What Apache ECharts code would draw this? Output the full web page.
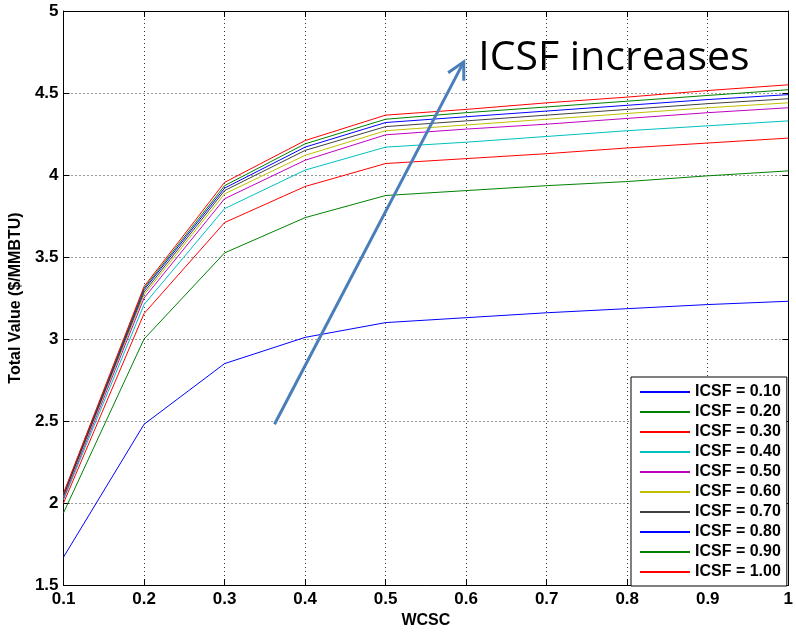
<!DOCTYPE html>
<html>
<head>
<meta charset="utf-8">
<script src="https://cdn.jsdelivr.net/npm/echarts@6/dist/echarts.min.js"></script>
<style>
html,body{margin:0;padding:0;background:#fff;}
#chart{width:796px;height:634px;}
</style>
</head>
<body>
<div id="chart"></div>
<script>
// ---- data ----
const wcsc = [0.1, 0.2, 0.3, 0.4, 0.5, 0.6, 0.7, 0.8, 0.9, 1.0];
const seriesNames = ['ICSF = 0.10','ICSF = 0.20','ICSF = 0.30','ICSF = 0.40','ICSF = 0.50','ICSF = 0.60','ICSF = 0.70','ICSF = 0.80','ICSF = 0.90','ICSF = 1.00'];
const icsf010 = [1.67, 2.48, 2.85, 3.01, 3.10, 3.13, 3.16, 3.185, 3.21, 3.23];
const icsf020 = [1.94, 3.00, 3.525, 3.74, 3.875, 3.905, 3.935, 3.96, 3.995, 4.025];
const icsf030 = [2.00, 3.155, 3.71, 3.93, 4.07, 4.10, 4.13, 4.165, 4.195, 4.225];
const icsf040 = [2.02, 3.21, 3.795, 4.03, 4.17, 4.20, 4.235, 4.27, 4.30, 4.33];
const icsf050 = [2.03, 3.25, 3.855, 4.09, 4.245, 4.28, 4.31, 4.345, 4.38, 4.41];
const icsf060 = [2.04, 3.27, 3.885, 4.12, 4.27, 4.305, 4.34, 4.375, 4.41, 4.44];
const icsf070 = [2.045, 3.285, 3.905, 4.15, 4.295, 4.33, 4.365, 4.40, 4.435, 4.465];
const icsf080 = [2.05, 3.30, 3.92, 4.17, 4.32, 4.355, 4.39, 4.425, 4.46, 4.49];
const icsf090 = [2.055, 3.31, 3.935, 4.19, 4.34, 4.38, 4.415, 4.45, 4.485, 4.52];
const icsf100 = [2.06, 3.32, 3.955, 4.21, 4.365, 4.40, 4.44, 4.475, 4.515, 4.55];
const allValues = [icsf010, icsf020, icsf030, icsf040, icsf050, icsf060, icsf070, icsf080, icsf090, icsf100];
// annotation (data coordinates)
const arrowStart = [0.362, 2.48];
const arrowEnd = [0.597, 4.69];
const annotationText = 'ICSF increases';
const annotationAnchor = [0.615, 4.71];

const colors = ['#0000ff','#008000','#ff0000','#00bfbf','#bf00bf','#bfbf00','#404040','#0000ff','#008000','#ff0000'];
const FONT = '"Liberation Sans", Arial, sans-serif';

const chart = echarts.init(document.getElementById('chart'), null, {renderer: 'canvas'});

const series = allValues.map((vals, i) => ({
  name: seriesNames[i],
  type: 'line',
  data: wcsc.map((x, j) => [x, vals[j]]),
  symbol: 'none',
  showSymbol: false,
  lineStyle: {color: colors[i], width: 1},
  itemStyle: {color: colors[i]},
  animation: false,
  z: 3
}));

const dotted = {show: true, lineStyle: {color: '#333', width: 1, type: [1, 3]}};
const labelStyle = {color: '#000', fontFamily: FONT, fontWeight: 'bold', fontSize: 17};

chart.setOption({
  backgroundColor: '#fff',
  animation: false,
  grid: {left: 61, top: 11, width: 736, height: 580, containLabel: false},
  legend: {
    orient: 'vertical',
    left: 631, top: 377,
    data: seriesNames,
    icon: 'rect',
    itemWidth: 50, itemHeight: 2, itemGap: 4,
    padding: [7, 6, 6, 9],
    borderColor: '#000', borderWidth: 1,
    backgroundColor: '#fff',
    selectedMode: false,
    textStyle: {color: '#000', fontFamily: FONT, fontWeight: 'bold', fontSize: 16, lineHeight: 16}
  },
  xAxis: [{
    type: 'value', min: 0.1, max: 1.0, interval: 0.1,
    name: 'WCSC', nameLocation: 'middle', nameGap: 28,
    nameTextStyle: {color: '#000', fontFamily: FONT, fontWeight: 'bold', fontSize: 16},
    axisLine: {show: true, onZero: false, lineStyle: {color: '#000', width: 1}},
    axisTick: {show: true, inside: true, length: 6, lineStyle: {color: '#000'}},
    axisLabel: Object.assign({margin: 6, formatter: v => (Math.round(v*10)/10).toString()}, labelStyle),
    splitLine: dotted
  }, {
    type: 'value', min: 0.1, max: 1.0, interval: 0.1, position: 'top',
    axisLine: {show: true, onZero: false, lineStyle: {color: '#000', width: 1}},
    axisTick: {show: true, inside: true, length: 6, lineStyle: {color: '#000'}},
    axisLabel: {show: false}, splitLine: {show: false}
  }],
  yAxis: [{
    type: 'value', min: 1.5, max: 5, interval: 0.5,
    name: 'Total Value ($/MMBTU)', nameLocation: 'middle', nameGap: 36,
    nameTextStyle: {color: '#000', fontFamily: FONT, fontWeight: 'bold', fontSize: 16},
    axisLine: {show: true, onZero: false, lineStyle: {color: '#000', width: 1}},
    axisTick: {show: true, inside: true, length: 6, lineStyle: {color: '#000'}},
    axisLabel: Object.assign({margin: 5}, labelStyle),
    splitLine: dotted
  }, {
    type: 'value', min: 1.5, max: 5, interval: 0.5, position: 'right',
    axisLine: {show: true, onZero: false, lineStyle: {color: '#000', width: 1}},
    axisTick: {show: true, inside: true, length: 6, lineStyle: {color: '#000'}},
    axisLabel: {show: false}, splitLine: {show: false}
  }],
  series: series
});

// annotation arrow and text, positioned via the chart's own coordinate system
const p0 = chart.convertToPixel({gridIndex: 0}, arrowStart);
const p1 = chart.convertToPixel({gridIndex: 0}, arrowEnd);
const ta = chart.convertToPixel({gridIndex: 0}, annotationAnchor);
const dx = p1[0] - p0[0], dy = p1[1] - p0[1];
const len = Math.sqrt(dx*dx + dy*dy);
const ux = dx/len, uy = dy/len;
const headLen = 19, ang = Math.PI/6.5;
function rot(x, y, a){ return [x*Math.cos(a) - y*Math.sin(a), x*Math.sin(a) + y*Math.cos(a)]; }
const a1 = rot(-ux, -uy, ang), a2 = rot(-ux, -uy, -ang);
const arrowColor = '#4a7ebb';
chart.setOption({
  graphic: [
    {type: 'polyline', z: 10, shape: {points: [p0, p1]}, style: {stroke: arrowColor, lineWidth: 3, fill: null}},
    {type: 'polyline', z: 10, shape: {points: [[p1[0]+a1[0]*headLen, p1[1]+a1[1]*headLen], p1, [p1[0]+a2[0]*headLen, p1[1]+a2[1]*headLen]]},
      style: {stroke: arrowColor, lineWidth: 3, fill: null, lineJoin: 'miter'}},
    {type: 'text', z: 10, x: ta[0], y: ta[1],
      style: {text: annotationText, fill: '#000', font: '41px "Open Sans", sans-serif', textAlign: 'left', textVerticalAlign: 'middle'}}
  ]
});
</script>
</body>
</html>
